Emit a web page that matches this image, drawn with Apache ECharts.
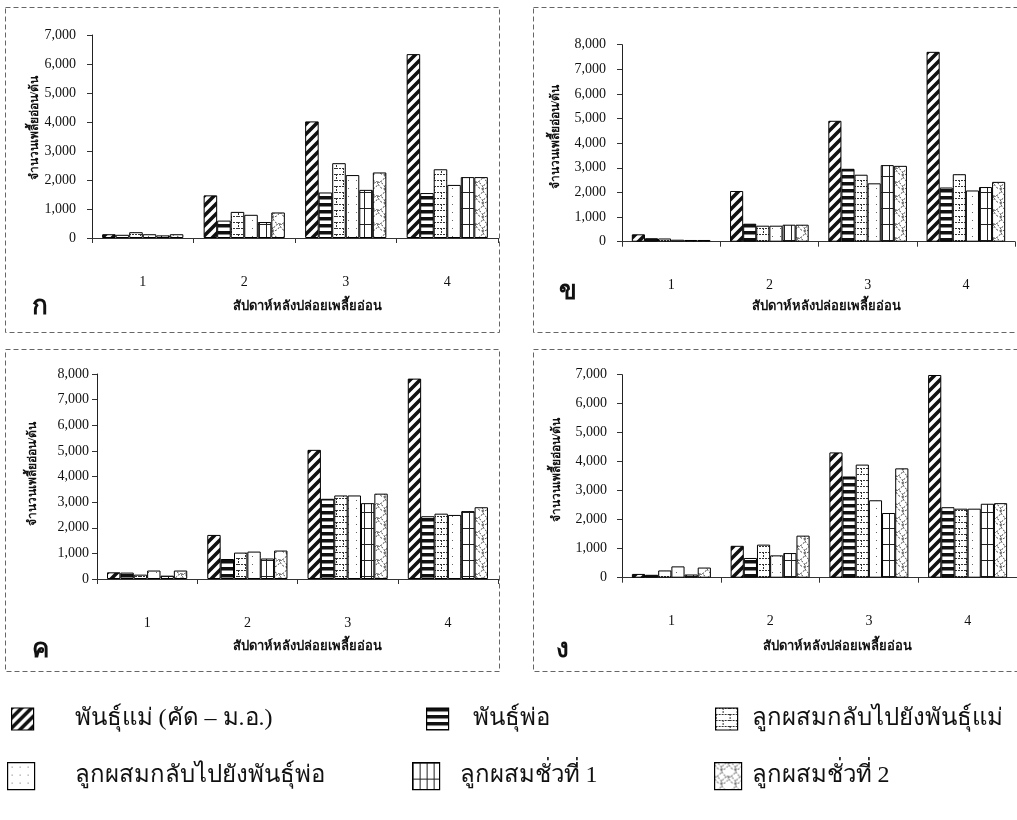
<!DOCTYPE html>
<html>
<head>
<meta charset="utf-8">
<script src="https://cdn.jsdelivr.net/npm/echarts@6/dist/echarts.min.js"></script>
<style>
html,body{margin:0;padding:0;background:#fff;}
#chart{width:1017px;height:820px;}
</style>
</head>
<body>
<div id="chart"></div>
<script>
// ---------- DATA ----------
const weeks = ['1', '2', '3', '4'];
const seriesNames = [
  'พันธุ์แม่ (คัด – ม.อ.)',
  'พันธุ์พ่อ',
  'ลูกผสมกลับไปยังพันธุ์แม่',
  'ลูกผสมกลับไปยังพันธุ์พ่อ',
  'ลูกผสมชั่วที่ 1',
  'ลูกผสมชั่วที่ 2'
];
const panelLetters = ['ก', 'ข', 'ค', 'ง'];
const yAxisTitle = 'จำนวนเพลี้ยอ่อน/ต้น';
const xAxisTitle = 'สัปดาห์หลังปล่อยเพลี้ยอ่อน';
const yMaxes = [7000, 8000, 8000, 7000];

// panel ก
const A_mother   = [130, 1470, 4020, 6340];
const A_father   = [110, 600, 1570, 1550];
const A_bcMother = [200, 900, 2580, 2370];
const A_bcFather = [130, 800, 2170, 1830];
const A_f1       = [90, 550, 1660, 2100];
const A_f2       = [130, 880, 2260, 2100];
// panel ข
const B_mother   = [300, 2060, 4910, 7710];
const B_father   = [140, 730, 2960, 2200];
const B_bcMother = [130, 650, 2720, 2740];
const B_bcFather = [80, 650, 2370, 2080];
const B_f1       = [70, 690, 3110, 2220];
const B_f2       = [70, 690, 3080, 2430];
// panel ค
const C_mother   = [260, 1720, 5040, 7820];
const C_father   = [250, 780, 3130, 2450];
const C_bcMother = [170, 1030, 3260, 2550];
const C_bcFather = [330, 1070, 3260, 2500];
const C_f1       = [130, 800, 2960, 2650];
const C_f2       = [330, 1110, 3330, 2800];
// panel ง
const D_mother   = [130, 1100, 4320, 6990];
const D_father   = [100, 680, 3490, 2430];
const D_bcMother = [250, 1140, 3900, 2380];
const D_bcFather = [390, 770, 2670, 2380];
const D_f1       = [110, 850, 2230, 2550];
const D_f2       = [350, 1450, 3770, 2570];

const panelData = [
  [A_mother, A_father, A_bcMother, A_bcFather, A_f1, A_f2],
  [B_mother, B_father, B_bcMother, B_bcFather, B_f1, B_f2],
  [C_mother, C_father, C_bcMother, C_bcFather, C_f1, C_f2],
  [D_mother, D_father, D_bcMother, D_bcFather, D_f1, D_f2]
];

// ---------- PATTERNS ----------
function cv(w, h) {
  const c = document.createElement('canvas');
  c.width = w; c.height = h;
  const ctx = c.getContext('2d');
  ctx.fillStyle = '#fff';
  ctx.fillRect(0, 0, w, h);
  return [c, ctx];
}
function patDiag() {
  const s = 10;
  const [c, ctx] = cv(s, s);
  ctx.strokeStyle = '#111';
  ctx.lineWidth = 3.6;
  ctx.beginPath();
  ctx.moveTo(-2, s + 2); ctx.lineTo(s + 2, -2);
  ctx.moveTo(-2, 2); ctx.lineTo(2, -2);
  ctx.moveTo(s - 2, s + 2); ctx.lineTo(s + 2, s - 2);
  ctx.stroke();
  return c;
}
function patHoriz() {
  const [c, ctx] = cv(4, 7);
  ctx.fillStyle = '#111';
  ctx.fillRect(0, 0, 4, 3.5);
  return c;
}
function patBrick() {
  const [c, ctx] = cv(14, 12);
  ctx.strokeStyle = '#333';
  ctx.lineWidth = 1;
  ctx.setLineDash([2, 1]);
  ctx.beginPath();
  ctx.moveTo(0, 0.5); ctx.lineTo(14, 0.5);
  ctx.moveTo(0, 6.5); ctx.lineTo(14, 6.5);
  ctx.moveTo(7.5, 0); ctx.lineTo(7.5, 6);
  ctx.moveTo(0.5, 6); ctx.lineTo(0.5, 12);
  ctx.stroke();
  return c;
}
function patDots() {
  const [c, ctx] = cv(8, 8);
  ctx.fillStyle = '#666';
  ctx.fillRect(4, 4, 1, 1);
  return c;
}
function patGrid() {
  const [c, ctx] = cv(7, 16);
  ctx.strokeStyle = '#222';
  ctx.lineWidth = 1;
  ctx.beginPath();
  ctx.moveTo(0, 0.5); ctx.lineTo(7, 0.5);
  ctx.moveTo(0.5, 0); ctx.lineTo(0.5, 16);
  ctx.stroke();
  return c;
}
function patWave() {
  const [c, ctx] = cv(14, 14);
  ctx.strokeStyle = '#444';
  ctx.lineWidth = 1;
  ctx.setLineDash([2, 1.5]);
  ctx.beginPath();
  ctx.arc(7, 0, 7, 0, Math.PI);
  ctx.stroke();
  ctx.beginPath();
  ctx.arc(0, 7, 7, -Math.PI / 2, Math.PI / 2);
  ctx.stroke();
  ctx.beginPath();
  ctx.arc(14, 7, 7, Math.PI / 2, Math.PI * 1.5);
  ctx.stroke();
  return c;
}
const patterns = [patDiag(), patHoriz(), patBrick(), patDots(), patGrid(), patWave()];

// ---------- LAYOUT ----------
const grids = [
  { left: 92, top: 35, width: 406, height: 203 },
  { left: 622, top: 44.7, width: 393, height: 197 },
  { left: 97, top: 374, width: 401, height: 205 },
  { left: 622, top: 374.7, width: 395, height: 203 }
];
const yLabelMargins = [16, 16, 8, 15];
const yNamePos = [[35, 128], [556, 137], [33, 474], [557, 470]];
const xTitlePos = [[307, 307], [826, 307], [307, 647], [837, 647]];
const letterPos = [[40, 307], [568, 292], [40, 650], [562, 650]];
const frames = [
  { x: 5, y: 7, w: 494, h: 325 },
  { x: 533, y: 7, w: 490, h: 325 },
  { x: 5, y: 349, w: 494, h: 322 },
  { x: 533, y: 349, w: 490, h: 322 }
];

const serif = "'Liberation Serif', 'DejaVu Serif', serif";

const xAxes = [], yAxes = [], series = [], graphics = [];
grids.forEach((g, i) => {
  xAxes.push({
    type: 'category', gridIndex: i, data: weeks,
    axisLine: { lineStyle: { color: '#333', width: 1 } },
    axisTick: { show: true, length: 5, lineStyle: { color: '#333' } },
    axisLabel: { margin: 37, color: '#111', fontFamily: serif, fontSize: 14 },
    splitLine: { show: false }
  });
  yAxes.push({
    type: 'value', gridIndex: i, min: 0, max: yMaxes[i], interval: 1000,
    axisLine: { show: true, lineStyle: { color: '#222', width: 1 } },
    axisTick: { show: true, length: 5, lineStyle: { color: '#333' } },
    axisLabel: {
      margin: yLabelMargins[i], color: '#111', fontFamily: serif, fontSize: 14,
      formatter: v => v.toLocaleString('en-US')
    },
    splitLine: { show: false }
  });
  panelData[i].forEach((arr, k) => {
    series.push({
      type: 'bar', name: seriesNames[k], xAxisIndex: i, yAxisIndex: i,
      data: arr, barGap: '0%', barCategoryGap: '20%',
      itemStyle: { color: { image: patterns[k], repeat: 'repeat' }, borderColor: '#000', borderWidth: 1 },
      emphasis: { disabled: true }, animation: false
    });
  });
  const f = frames[i];
  graphics.push({
    type: 'rect', shape: { x: f.x + 0.5, y: f.y + 0.5, width: f.w, height: f.h }, silent: true,
    style: { fill: 'none', stroke: '#666', lineWidth: 1, lineDash: [5, 3] }, z: -1
  });
  graphics.push({
    type: 'text', x: yNamePos[i][0], y: yNamePos[i][1], rotation: Math.PI / 2,
    style: { text: yAxisTitle, fill: '#111', font: "bold 12px " + serif, align: 'center', verticalAlign: 'middle' }
  });
  graphics.push({
    type: 'text', x: xTitlePos[i][0], y: xTitlePos[i][1],
    style: { text: xAxisTitle, fill: '#111', font: "bold 13px " + serif, align: 'center', verticalAlign: 'middle' }
  });
  graphics.push({
    type: 'text', x: letterPos[i][0], y: letterPos[i][1],
    style: { text: panelLetters[i], fill: '#111', font: "bold 26px 'DejaVu Sans', sans-serif", align: 'center', verticalAlign: 'middle' }
  });
});

// legends (one per item to place them freely): icon left, text left, icon top, icon size
const legendPos = [
  { icon: 6, text: 75, top: 702, size: 22 },
  { icon: 421, text: 473, top: 702, size: 22 },
  { icon: 710, text: 752, top: 702, size: 22 },
  { icon: 2, text: 75, top: 757, size: 27 },
  { icon: 407, text: 460, top: 757, size: 27 },
  { icon: 709, text: 752, top: 757, size: 27 }
];
const legends = seriesNames.map((n, k) => {
  const p = legendPos[k];
  const pad = p.text - p.icon - p.size - 11;
  return {
    data: [n], left: p.icon, top: p.top,
    itemWidth: p.size, itemHeight: p.size, itemGap: 0, selectedMode: false,
    icon: 'rect',
    itemStyle: { borderColor: '#000', borderWidth: 1.2 },
    textStyle: { fontFamily: serif, fontSize: 24, color: '#111', padding: [0, 0, 0, pad] }
  };
});

const chart = echarts.init(document.getElementById('chart'), null, { renderer: 'canvas' });
chart.setOption({
  backgroundColor: '#fff',
  animation: false,
  grid: grids.map(g => Object.assign({ containLabel: false }, g)),
  xAxis: xAxes,
  yAxis: yAxes,
  series: series,
  legend: legends,
  graphic: graphics
});
</script>
</body>
</html>
